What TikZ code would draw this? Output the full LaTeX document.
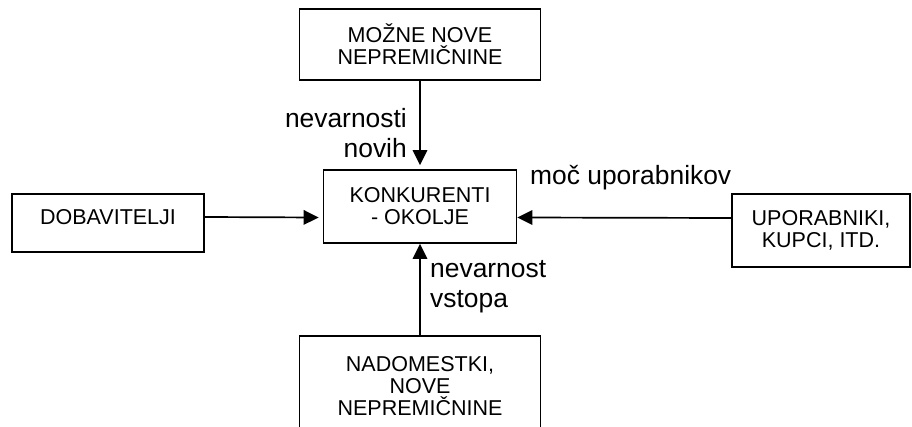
\documentclass[tikz,border=0pt]{standalone}
\usepackage{fontspec}
\setmainfont{Liberation Sans}
\usetikzlibrary{arrows.meta,positioning}

\begin{document}
\begin{tikzpicture}[x=1pt,y=-1pt,
  okvir/.style={draw,line width=1.7pt,inner sep=0pt,align=center,font=\fontsize{21.5}{22}\selectfont},
  oznaka/.style={inner sep=0pt,font=\fontsize{26.4}{30}\selectfont},
  puscica/.style={line width=1.7pt,-{Triangle[length=15pt,width=14.5pt]}}]
\useasboundingbox (0,0) rectangle (912,427);
\node[okvir,minimum width=241,minimum height=71] (nove) at (420,44.5) {MOŽNE NOVE\\NEPREMIČNINE};
\node[okvir,minimum width=193,minimum height=73] (kon) at (420,206.5) {KONKURENTI\\- OKOLJE};
\node[okvir,minimum width=192,minimum height=58,text depth=12pt] (dob) at (108,223) {DOBAVITELJI};
\node[okvir,minimum width=178,minimum height=73] (upo) at (821,230.5) {UPORABNIKI,\\KUPCI, ITD.};
\node[okvir,minimum width=241,minimum height=100,anchor=north] (nad) at (420,335) {NADOMESTKI,\\NOVE\\NEPREMIČNINE};
\draw[puscica] (nove) -- ([yshift=4pt]kon.north);
\draw[puscica] ([yshift=6pt]dob.east) -- ([xshift=-4pt,yshift=-11pt]kon.west);
\draw[puscica] ([yshift=12.5pt]upo.west) -- ([yshift=-11pt]kon.east);
\draw[puscica] (nad) -- (kon);
\node[oznaka,align=right,anchor=east] (lnove) at (407,133) {nevarnosti\\novih};
\node[oznaka,anchor=base west] (lupo) at (530,185) {moč uporabnikov};
\node[oznaka,align=left,anchor=west] (lnad) at (430,287) {nevarnost\\vstopa};
\end{tikzpicture}
\end{document}
